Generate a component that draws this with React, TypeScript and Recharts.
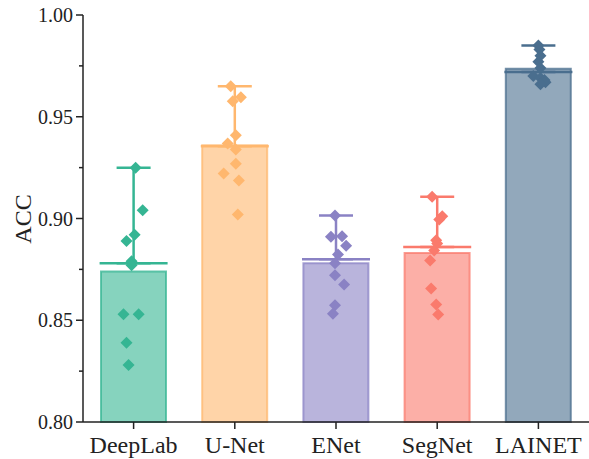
import { ComposedChart, Bar, Scatter, XAxis, YAxis, Cell, ErrorBar } from 'recharts';

const categories = ['DeepLab', 'U-Net', 'ENet', 'SegNet', 'LAINET'];
const colors = ['#35B593', '#FFB76E', '#8A82C4', '#FA7A6C', '#4A6E8E'];

// bar height = mean, horizontal line = median
const means = [0.874, 0.936, 0.878, 0.883, 0.9736];
const medians = [0.878, 0.9355, 0.880, 0.886, 0.972];

const deeplabAcc = [0.925, 0.904, 0.892, 0.889, 0.879, 0.877, 0.853, 0.853, 0.839, 0.828];
const unetAcc = [0.965, 0.9596, 0.9576, 0.9409, 0.9369, 0.9339, 0.9269, 0.9221, 0.9187, 0.902];
const enetAcc = [0.9015, 0.891, 0.8913, 0.8866, 0.8823, 0.878, 0.8721, 0.8676, 0.8574, 0.8532];
const segnetAcc = [0.9107, 0.9011, 0.8995, 0.8893, 0.8877, 0.8843, 0.8794, 0.8656, 0.8577, 0.8528];
const lainetAcc = [0.985, 0.983, 0.98, 0.977, 0.974, 0.97, 0.969, 0.968, 0.967, 0.966];

// horizontal jitter of the points, in category units
const deeplabJitter = [0.02, 0.09, 0.01, -0.07, -0.02, -0.02, -0.1, 0.05, -0.07, -0.05];
const unetJitter = [-0.04, 0.06, -0.02, 0.01, -0.07, 0.01, 0.01, -0.11, 0.04, 0.03];
const enetJitter = [-0.01, -0.05, 0.06, 0.1, 0.02, -0.01, -0.01, 0.08, -0.01, -0.03];
const segnetJitter = [-0.05, 0.05, 0.02, -0.01, 0, -0.03, -0.07, -0.06, -0.01, 0.01];
const lainetJitter = [0, 0.01, 0.02, 0, 0.02, -0.05, 0.02, 0.06, 0.07, 0.02];

const yTicks = [0.8, 0.825, 0.85, 0.875, 0.9, 0.925, 0.95, 0.975, 1.0];

const allAcc = [deeplabAcc, unetAcc, enetAcc, segnetAcc, lainetAcc];
const allJitter = [deeplabJitter, unetJitter, enetJitter, segnetJitter, lainetJitter];

const FONT = "'Times New Roman', 'Liberation Serif', serif";
const AXIS = '#222';

const barData = categories.map((name, i) => ({ name, mean: means[i] }));

function YTick(props: any) {
  const { x, y, payload } = props;
  const v = payload.value;
  const major = Math.abs(v * 20 - Math.round(v * 20)) < 1e-6;
  return (
    <g>
      <line x1={x} x2={x - (major ? 7 : 4)} y1={y} y2={y} stroke={AXIS} strokeWidth={1.5} />
      {major && (
        <text x={x - 10} y={y} dy="0.35em" textAnchor="end" style={{ fontFamily: FONT, fontSize: 20 }} fill="#222">
          {v.toFixed(2)}
        </text>
      )}
    </g>
  );
}

export default function App() {
  return (
    <div style={{ position: 'absolute', left: 0, top: 0, background: '#fff' }}>
      <ComposedChart
        width={589}
        height={459}
        data={barData}
        margin={{ top: 15, right: 0, bottom: 0, left: 23 }}
      >
        <XAxis
          xAxisId="cat"
          dataKey="name"
          height={37}
          tickSize={7}
          tickMargin={7}
          axisLine={{ stroke: AXIS, strokeWidth: 1.5 }}
          tickLine={{ stroke: AXIS, strokeWidth: 1.5 }}
          tick={{ fontFamily: FONT, fontSize: 24, fill: '#222' }}
          interval={0}
        />
        <XAxis
          xAxisId="top"
          orientation="top"
          dataKey="name"
          height={0}
          tick={false}
          tickLine={false}
          axisLine={{ stroke: AXIS, strokeWidth: 1.5 }}
        />
        <XAxis xAxisId="num" type="number" dataKey="x" domain={[-0.5, 4.5]} hide />
        <YAxis
          domain={[0.8, 1]}
          ticks={yTicks}
          interval={0}
          width={60}
          tickSize={0}
          tickMargin={0}
          tickLine={false}
          axisLine={{ stroke: AXIS, strokeWidth: 1.5 }}
          tick={<YTick />}
          label={() => (
            <text x={23} y={219} transform="rotate(-90 23 219)" textAnchor="middle" dy="0.35em" style={{ fontFamily: FONT, fontSize: 24 }} fill="#222">
              ACC
            </text>
          )}
        />
        <Bar xAxisId="cat" dataKey="mean" barSize={65} isAnimationActive={false}>
          {barData.map((d, i) => (
            <Cell key={d.name} fill={colors[i]} fillOpacity={0.6} stroke={colors[i]} strokeOpacity={0.75} strokeWidth={2} />
          ))}
        </Bar>
        {categories.map((name, i) => (
          <Scatter
            key={`med-${name}`}
            xAxisId="num"
            dataKey="y"
            data={[{ x: i, y: medians[i], err: [0, Math.max(...allAcc[i]) - medians[i]] }]}
            isAnimationActive={false}
            shape={(p: any) => (
              <line x1={p.cx - 34} x2={p.cx + 34} y1={p.cy} y2={p.cy} stroke={colors[i]} strokeWidth={2.5} />
            )}
          >
            <ErrorBar dataKey="err" direction="y" width={17} stroke={colors[i]} strokeWidth={2.5} isAnimationActive={false} />
          </Scatter>
        ))}
        {categories.map((name, i) => (
          <Scatter
            key={`pts-${name}`}
            xAxisId="num"
            dataKey="y"
            data={allAcc[i].map((y, j) => ({ x: i + allJitter[i][j], y }))}
            isAnimationActive={false}
            shape={(p: any) => (
              <path
                d={`M${p.cx},${p.cy - 6}L${p.cx + 6},${p.cy}L${p.cx},${p.cy + 6}L${p.cx - 6},${p.cy}Z`}
                fill={colors[i]}
              />
            )}
          />
        ))}
      </ComposedChart>
    </div>
  );
}
